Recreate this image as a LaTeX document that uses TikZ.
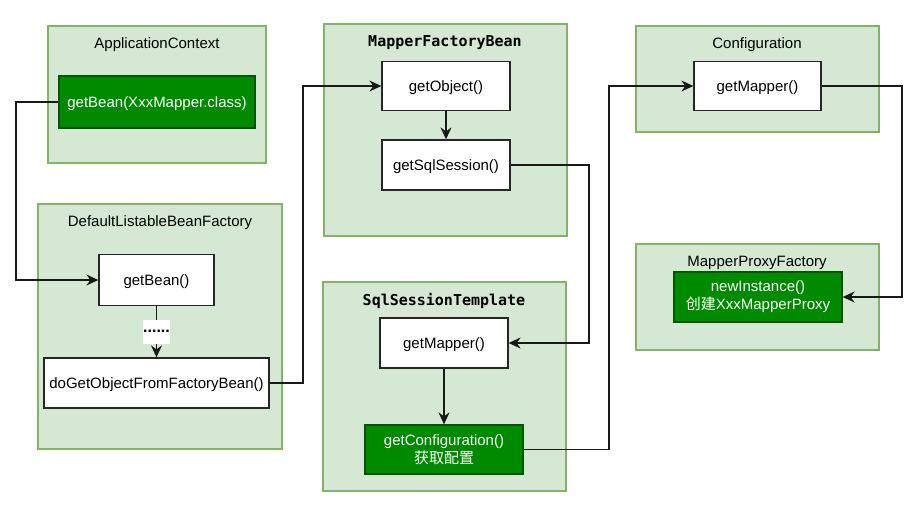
\documentclass[tikz,border=0pt]{standalone}
\usepackage{fontspec}
\setmainfont{Liberation Sans}
\newfontfamily\cjk{Noto Sans CJK SC}
\newfontfamily\codefont{DejaVu Sans Mono}
\usetikzlibrary{arrows.meta}

\definecolor{groupfill}{HTML}{D5E8D4}
\definecolor{groupedge}{HTML}{82B366}
\definecolor{hotfill}{HTML}{008A00}
\definecolor{hotedge}{HTML}{005700}

\begin{document}
\begin{tikzpicture}[x=1pt, y=-1pt,
    group/.style={draw=groupedge, fill=groupfill, line width=1.3pt, inner sep=0pt},
    title/.style={font=\fontsize{15}{18}\selectfont},
    codetitle/.style={font=\fontsize{15}{18}\selectfont\codefont\bfseries},
    method/.style={draw=black!85, fill=white, line width=1.3pt, inner sep=0pt, align=center,
        font=\fontsize{15}{18}\selectfont},
    oneline/.style={text height=14pt, text depth=2.6pt},
    hot/.style={method, draw=hotedge, fill=hotfill, text=white},
    link/.style={-{Stealth[length=12pt, width=11pt, inset=4pt]}, line width=1.3pt, draw=black!90}]

    \useasboundingbox (0,0) rectangle (915,504);

    % --- Groups ---
    \node[group, minimum width=218pt, minimum height=137pt] (ctx)  at (157,94.5) {};
    \node[group, minimum width=244pt, minimum height=245pt] (dlbf) at (160,326.5) {};
    \node[group, minimum width=243pt, minimum height=212pt] (mfb)  at (445.5,130) {};
    \node[group, minimum width=243pt, minimum height=209pt] (sst)  at (444.5,386.5) {};
    \node[group, minimum width=243pt, minimum height=106pt] (cfg)  at (757.5,79) {};
    \node[group, minimum width=243pt, minimum height=106pt] (mpf)  at (757.5,297) {};

    % Group titles
    \node[title]     (ctxT)  at (157,45)  {ApplicationContext};
    \node[title]     (dlbfT) at (160,223) {DefaultListableBeanFactory};
    \node[codetitle] (mfbT)  at (445,43)  {MapperFactoryBean};
    \node[codetitle] (sstT)  at (444,301) {SqlSessionTemplate};
    \node[title]     (cfgT)  at (757,45)  {Configuration};
    \node[title]     (mpfT)  at (757,263) {MapperProxyFactory};

    % --- Methods ---
    \node[hot, oneline, minimum width=196pt, minimum height=52pt] (ctxBean) at (157,102) {getBean(XxxMapper.class)};
    \node[method, oneline, minimum width=115pt, minimum height=51pt] (getBean) at (156.5,280) {getBean()};
    \node[method, oneline, minimum width=225pt, minimum height=50pt] (doGet) at (156.5,383) {doGetObjectFromFactoryBean()};
    \node[method, oneline, minimum width=128pt, minimum height=49pt] (getObject) at (446,86) {getObject()};
    \node[method, oneline, minimum width=128pt, minimum height=50pt] (getSession) at (446,165) {getSqlSession()};
    \node[method, oneline, minimum width=128pt, minimum height=50pt] (sstMapper) at (444,343) {getMapper()};
    \node[hot, minimum width=158pt, minimum height=49pt] (getConf) at (444,449.5) {getConfiguration()\\{\cjk 获取配置}};
    \node[method, oneline, minimum width=127pt, minimum height=49pt] (cfgMapper) at (757.5,86) {getMapper()};
    \node[hot, minimum width=168pt, minimum height=50pt] (newInst) at (758,297) {newInstance()\\{\cjk 创建}XxxMapperProxy};

    % --- Bend columns ---
    \coordinate (bendA) at (16,0);
    \coordinate (bendB) at (303,0);
    \coordinate (bendC) at (589,0);
    \coordinate (bendD) at (609,0);
    \coordinate (bendE) at (902,0);

    % --- Call chain ---
    \draw[link] (ctxBean.west) -- (ctxBean.west -| bendA) |- (getBean.west);
    \draw[link] (getBean) -- (doGet)
        node[pos=0.5, fill=white, minimum width=24pt, minimum height=24pt, inner sep=0pt,
             font=\fontsize{16}{18}\selectfont\bfseries] (dots) {......};
    \draw[link] (doGet.east) -- (doGet.east -| bendB) |- (getObject.west);
    \draw[link] (getObject) -- (getSession);
    \draw[link] (getSession.east) -- (getSession.east -| bendC) |- (sstMapper.east);
    \draw[link] (sstMapper) -- (getConf);
    \draw[link] (getConf.east) -- (getConf.east -| bendD) |- (cfgMapper.west);
    \draw[link] (cfgMapper.east) -- (cfgMapper.east -| bendE) |- (newInst.east);

\end{tikzpicture}
\end{document}
